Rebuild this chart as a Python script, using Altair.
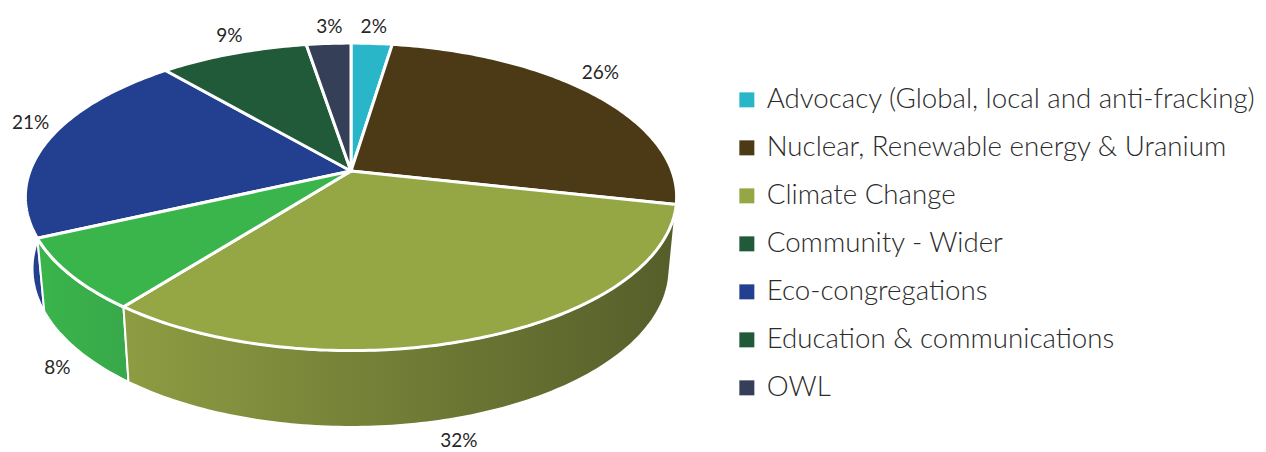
import math
import altair as alt
import pandas as pd

categories = ["Advocacy (Global, local and anti-fracking)", "Nuclear, Renewable energy & Uranium",
              "Climate Change", "Community - Wider", "Eco-congregations",
              "Education & communications", "OWL"]
shares = [2.4, 26.1, 32.1, 7.6, 20.6, 8.7, 2.6]
legend_colors = ["#29B6C9", "#4B3A15", "#95A645", "#215A39", "#233F8F", "#215A39", "#353F57"]
COMMUNITY_PIE = "#3AB54B"
CLIMATE_SIDE = ["#8E9C42", "#555E2A"]
COMMUNITY_SIDE = ["#3AB54B", "#38A84A"]
ECO_SIDE = ["#233F8F", "#233F8F"]

# perspective view of a flat disc
CX, CY = 343, 163
SX, SY, K = 321.0, 149.4, 0.168
BOTTOM_CY, BOTTOM_SX, BOTTOM_SY = 234, 0.978, 1.03
PROJ = dict(type="identity", scale=1, translate=[0, 0])
LABEL_NUDGE = {"2%": (1, 2), "26%": (-4, -3), "32%": (-23, 9), "8%": (-8, 1),
               "21%": (-4, 1), "9%": (2, 1), "3%": (2, 2)}


def rim(frac, bottom=False, r=1.0):
    t = 2 * math.pi * frac
    x, y = r * math.sin(t), r * math.cos(t)
    w = 1 + K * y
    u, v = SX * x / w, SY * y / w
    if bottom:
        return [CX + BOTTOM_SX * u, BOTTOM_CY - BOTTOM_SY * v]
    return [CX + u, CY - v]


def arc(a, b, bottom=False):
    n = max(3, int((b - a) * 400))
    return [rim(a + (b - a) * i / n, bottom) for i in range(n + 1)]


def feature(name, ring):
    ring = ring + [ring[0]]
    return {"type": "Feature", "properties": {"name": name},
            "geometry": {"type": "Polygon", "coordinates": [ring]}}


total = sum(shares)
edges = [0.0]
for s in shares:
    edges.append(edges[-1] + s / total)

tops = [feature(c, [[CX, CY]] + arc(edges[i], edges[i + 1])) for i, c in enumerate(categories)]


def side(i, stops):
    ring = arc(edges[i], edges[i + 1]) + arc(edges[i], edges[i + 1], True)[::-1]
    grad = alt.Gradient(gradient="linear", x1=0, x2=1, y1=0, y2=0,
                        stops=[alt.GradientStop(offset=0, color=stops[0]),
                               alt.GradientStop(offset=1, color=stops[1])])
    return alt.Chart(alt.Data(values=[feature(categories[i], ring)])).mark_geoshape(
        fill=grad, stroke="white", strokeWidth=2, strokeJoin="round").project(**PROJ)


side_layers = [side(4, ECO_SIDE), side(3, COMMUNITY_SIDE), side(2, CLIMATE_SIDE)]

top_layer = alt.Chart(alt.Data(values=tops)).mark_geoshape(
    stroke="white", strokeWidth=3, strokeJoin="round").encode(
    color=alt.Color("properties.name:N",
                    scale=alt.Scale(domain=categories, range=legend_colors),
                    sort=None,
                    legend=alt.Legend(title=None, orient="none", legendX=725, legendY=78,
                                      symbolType="square", symbolSize=225, symbolStrokeWidth=0,
                                      labelFont="Lato", labelFontSize=27.7, labelFontWeight=300,
                                      labelColor="#2B2B2B", labelLimit=600, labelOffset=6,
                                      rowPadding=19, padding=0))
).project(**PROJ)

community_top = alt.Chart(alt.Data(values=[tops[3]])).mark_geoshape(
    fill=COMMUNITY_PIE, stroke="white", strokeWidth=3, strokeJoin="round").project(**PROJ)

rows = []
for i, s in enumerate(shares):
    mid = (edges[i] + edges[i + 1]) / 2
    front = 0.3 < mid < 0.72
    p = rim(mid, front, 1.0)
    t = 2 * math.pi * mid
    text = f"{round(s)}%"
    dx, dy = LABEL_NUDGE[text]
    px = p[0] + 14 * math.sin(t) + dx
    py = p[1] + (18 if front else -18) + dy
    rows.append({"label": text, "px": px, "py": py})

labels = alt.Chart(pd.DataFrame(rows)).mark_text(font="Lato", fontSize=19, color="#262626").encode(
    x=alt.X("px:Q", scale=None, axis=None),
    y=alt.Y("py:Q", scale=None, axis=None),
    text="label:N")

chart = alt.layer(*side_layers, top_layer, community_top, labels).properties(
    width=1250, height=444, padding=0, autosize=alt.AutoSizeParams(type="none"),
    background="white").configure_view(stroke=None)

chart.save("out.html", embed_options={"renderer": "svg", "actions": False})
